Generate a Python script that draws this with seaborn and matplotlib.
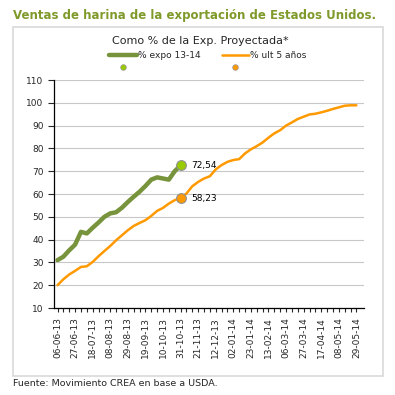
import pandas as pd
import matplotlib.pyplot as plt
import seaborn as sns
from matplotlib.lines import Line2D
from matplotlib.patches import Rectangle

# Datos semanales (06-06-13 a 29-05-14), % de la exportación proyectada
expo_13_14 = [31.0, 32.5, 35.3, 37.8, 43.4, 42.7, 45.2, 47.5, 50.0, 51.5, 52.0,
              54.0, 56.5, 58.8, 61.0, 63.5, 66.3, 67.3, 66.8, 66.3, 70.0, 72.54]
ult_5_anos = [20.0, 22.6, 24.7, 26.3, 28.0, 28.3, 30.2, 32.7, 35.0, 37.2, 39.7,
              41.9, 44.1, 46.0, 47.3, 48.5, 50.4, 52.6, 53.9, 55.8, 57.3, 58.23,
              60.2, 63.4, 65.3, 66.8, 67.8, 70.8, 72.7, 74.1, 74.9, 75.3, 77.8,
              79.6, 81.0, 82.6, 84.7, 86.6, 88.0, 90.0, 91.4, 92.9, 93.9, 94.9,
              95.2, 95.8, 96.5, 97.3, 98.0, 98.7, 98.9, 98.9]
etiquetas = ['06-06-13', '27-06-13', '18-07-13', '08-08-13', '29-08-13', '19-09-13',
             '10-10-13', '31-10-13', '21-11-13', '12-12-13', '02-01-14', '23-01-14',
             '13-02-14', '06-03-14', '27-03-14', '17-04-14', '08-05-14', '29-05-14']

verde = '#77933C'
verde_punto = '#99CC00'
naranja = '#FF9900'

df_expo = pd.DataFrame({'semana': range(len(expo_13_14)), 'valor': expo_13_14})
df_ult = pd.DataFrame({'semana': range(len(ult_5_anos)), 'valor': ult_5_anos})

sns.set_style('white')
plt.rcParams['font.family'] = ['DejaVu Sans']

fig = plt.figure(figsize=(3.95, 3.95), dpi=100)
ax = fig.add_axes([54 / 395, 1 - 308 / 395, 310 / 395, 228 / 395])

sns.lineplot(data=df_ult, x='semana', y='valor', ax=ax, color=naranja, lw=1.8)
sns.lineplot(data=df_expo, x='semana', y='valor', ax=ax, color=verde, lw=3.2)

# Puntos finales con etiqueta
for serie, col in [(expo_13_14, verde_punto), (ult_5_anos, naranja)]:
    i = len(expo_13_14) - 1
    ax.plot(i, serie[i], 'o', ms=7, color=col, mec='#909090', mew=0.8, zorder=5)
    ax.annotate(f'{serie[i]:.2f}'.replace('.', ','), (i, serie[i]),
                xytext=(8, 0), textcoords='offset points', va='center',
                fontsize=6.5, color='black')

ax.set_xlim(-0.6, 52.3)
ax.set_ylim(10, 110)
ax.set_yticks(range(10, 111, 10))
ax.set_xticks(range(0, len(ult_5_anos), 3))
ax.set_xticklabels(etiquetas, rotation=90, fontsize=6.5)
ax.set_xticks(range(0, len(ult_5_anos)), minor=True)
ax.tick_params(axis='y', labelsize=6.5, length=4, width=0.8, direction='out', left=True)
ax.tick_params(axis='x', which='both', length=3, width=0.8, direction='out', bottom=True)
ax.grid(axis='y', color='#c8c8c8', lw=0.8)
ax.set_xlabel('')
ax.set_ylabel('')
for s in ['top', 'right']:
    ax.spines[s].set_visible(False)
for s in ['left', 'bottom']:
    ax.spines[s].set_color('black')
    ax.spines[s].set_linewidth(0.9)

# Marco, títulos y leyenda
fig.add_artist(Rectangle((13 / 395, 1 - 376 / 395), 370 / 395, 349 / 395,
                         transform=fig.transFigure, fill=False,
                         edgecolor='#d9d9d9', lw=1.2))
fig.text(13 / 395, 1 - 15 / 395, 'Ventas de harina de la exportación de Estados Unidos.',
         color='#7F9A2A', fontsize=8.5, fontweight='bold', va='center', ha='left')
fig.text(200 / 395, 1 - 41 / 395, 'Como % de la Exp. Proyectada*',
         fontsize=8, va='center', ha='center')
fig.text(13 / 395, 1 - 384 / 395, 'Fuente: Movimiento CREA en base a USDA.',
         fontsize=6.8, va='center', ha='left')

for x0, x1, xp, col, pcol, lw, texto in [
        (109, 137, 123, verde, verde_punto, 3.2, '% expo 13-14'),
        (222, 249, 235.5, naranja, naranja, 1.8, '% ult 5 años')]:
    fig.add_artist(Line2D([x0 / 395, x1 / 395], [1 - 55 / 395] * 2, color=col, lw=lw,
                          transform=fig.transFigure))
    fig.add_artist(Line2D([xp / 395], [1 - 66.5 / 395], marker='o', ms=4, color=pcol,
                          mec='#909090', mew=0.5, transform=fig.transFigure))
    fig.text((x1 + 1) / 395, 1 - 55 / 395, texto, fontsize=6.5, va='center', ha='left')

fig.savefig('out.png', dpi=100)
